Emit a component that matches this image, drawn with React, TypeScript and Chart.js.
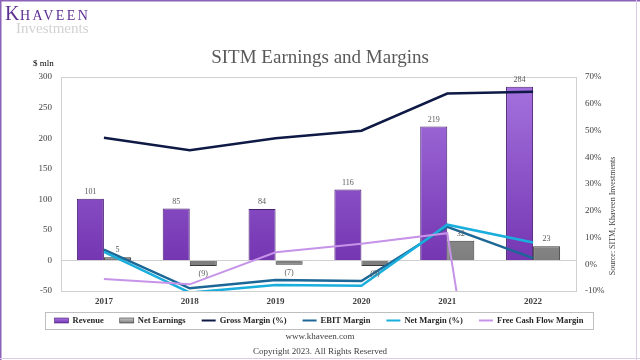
import React, { useEffect, useRef } from "react";
import { Chart, registerables } from "chart.js";

Chart.register(...registerables);

const years = ["2017", "2018", "2019", "2020", "2021", "2022"];
const revenue = [101, 85, 84, 116, 219, 284];
const netEarnings = [5, -9, -7, -9, 32, 23];
const grossMargin = [47.3, 42.6, 47.1, 49.9, 63.8, 64.5];
const ebitMargin = [5.5, -9.0, -5.9, -6.3, 14.0, 2.3];
const netMargin = [4.6, -10.6, -7.8, -8.0, 14.8, 8.1];
const fcfMargin = [-5.5, -7.5, 4.5, 7.7, 11.6, -190];

const leftTicks = { min: -50, max: 300, step: 50 };
const rightTicks = { min: -10, max: 70, step: 10 };

const SERIF = '"Liberation Serif", "Times New Roman", serif';
const TEXT = "#404040";

const PURPLE_TOP = "#A674E0";
const PURPLE_BOT = "#7536B2";
const GRAY_TOP = "#C8C8C8";
const GRAY_BOT = "#7E7E7E";

function vGrad(ctx: any, top: string, bot: string) {
  const chart = ctx.chart;
  const area = chart.chartArea;
  if (!area) return bot;
  const y0 = chart.scales.y.getPixelForValue(0);
  const g = chart.ctx.createLinearGradient(0, area.top, 0, y0);
  g.addColorStop(0, top);
  g.addColorStop(1, bot);
  return g;
}

const fmt = (v: number) => (v < 0 ? `(${Math.abs(v)})` : `${v}`);

const decoPlugin = {
  id: "deco",
  beforeDraw(chart: any) {
    const c = chart.ctx;
    c.save();
    c.fillStyle = "#ffffff";
    c.fillRect(0, 0, chart.width, chart.height);
    c.restore();
  },
  beforeDatasetsDraw(chart: any) {
    const c = chart.ctx;
    const a = chart.chartArea;
    c.save();
    c.strokeStyle = "#D0D0D0";
    c.lineWidth = 1;
    c.strokeRect(Math.round(a.left) + 0.5, Math.round(a.top) + 0.5, Math.round(a.right - a.left), Math.round(a.bottom - a.top));
    c.restore();
  },
  afterDatasetsDraw(chart: any) {
    const c = chart.ctx;
    c.save();
    c.font = `8px ${SERIF}`;
    c.fillStyle = "#595959";
    c.textAlign = "center";
    c.textBaseline = "middle";
    [0, 1].forEach((di) => {
      const meta = chart.getDatasetMeta(di);
      const data = chart.data.datasets[di].data as number[];
      meta.data.forEach((el: any, i: number) => {
        const v = data[i];
        const y = v >= 0 ? el.y - 7 : el.y + 8;
        c.fillText(fmt(v), el.x, y);
      });
    });
    c.restore();
  },
  afterDraw(chart: any) {
    const c = chart.ctx;
    const W = chart.width;
    const H = chart.height;
    c.save();

    // title
    c.font = `19px ${SERIF}`;
    c.fillStyle = "#595959";
    c.textAlign = "center";
    c.textBaseline = "middle";
    c.fillText("SITM Earnings and Margins", 320, 58);

    // $ mln
    c.font = `9px ${SERIF}`;
    c.fillStyle = "#000000";
    c.textAlign = "left";
    c.fillText("$ mln", 33, 64);

    // logo
    c.textBaseline = "alphabetic";
    c.fillStyle = "#5E2F93";
    c.font = `20px ${SERIF}`;
    c.fillText("K", 5, 20);
    c.font = `14px ${SERIF}`;
    (c as any).letterSpacing = "2.4px";
    c.fillText("HAVEEN", 20, 20);
    (c as any).letterSpacing = "0px";
    c.fillStyle = "#D2D2D2";
    c.font = `15px ${SERIF}`;
    c.fillText("Investments", 16, 33);

    // source (vertical)
    c.save();
    c.translate(613, 216);
    c.rotate(-Math.PI / 2);
    c.font = `8px ${SERIF}`;
    c.fillStyle = TEXT;
    c.textAlign = "center";
    c.textBaseline = "middle";
    c.fillText("Source: SITM, Khaveen Investments", 0, 0);
    c.restore();

    // legend
    const ds = chart.data.datasets;
    c.font = `bold 8.5px ${SERIF}`;
    const sw = 14, gapT = 4, gapI = 16;
    const widths = ds.map((d: any) => sw + gapT + c.measureText(d.label).width);
    const total = widths.reduce((s: number, w: number) => s + w, 0) + gapI * (ds.length - 1);
    let x = 319 - total / 2;
    const ly = 320.5;
    c.strokeStyle = "#BFBFBF";
    c.lineWidth = 1;
    c.strokeRect(45.5, 312.5, 548, 17);
    ds.forEach((d: any, i: number) => {
      if (d.type === "bar") {
        const g = c.createLinearGradient(0, ly - 2.5, 0, ly + 2.5);
        g.addColorStop(0, d.legendTop);
        g.addColorStop(1, d.legendBot);
        c.fillStyle = g;
        c.fillRect(x, ly - 2.5, sw, 5);
        c.strokeStyle = d.borderColor;
        c.lineWidth = 0.6;
        c.strokeRect(x, ly - 2.5, sw, 5);
      } else {
        c.strokeStyle = d.borderColor;
        c.lineWidth = 2;
        c.beginPath();
        c.moveTo(x, ly);
        c.lineTo(x + sw, ly);
        c.stroke();
      }
      c.fillStyle = "#262626";
      c.textAlign = "left";
      c.textBaseline = "middle";
      c.fillText(d.label, x + sw + gapT, ly + 0.5);
      x += widths[i] + gapI;
    });

    // footer
    c.font = `9px ${SERIF}`;
    c.fillStyle = TEXT;
    c.textAlign = "center";
    c.textBaseline = "middle";
    c.fillText("www.khaveen.com", 320, 337);
    c.fillText("Copyright 2023. All Rights Reserved", 320, 352);

    // frame
    c.strokeStyle = "#8A63B8";
    c.lineWidth = 1.5;
    c.beginPath();
    c.moveTo(0.75, H);
    c.lineTo(0.75, 0.75);
    c.lineTo(W, 0.75);
    c.stroke();
    c.strokeStyle = "#D8CCE6";
    c.lineWidth = 1;
    c.beginPath();
    c.moveTo(0, H - 1.5);
    c.lineTo(W, H - 1.5);
    c.moveTo(636.5, 0);
    c.lineTo(636.5, H);
    c.stroke();
    c.restore();
  },
};

export default function App() {
  const ref = useRef<HTMLCanvasElement | null>(null);

  useEffect(() => {
    document.body.style.margin = "0";
    const canvas = ref.current;
    if (!canvas) return;
    const chart = new Chart(canvas, {
      type: "bar",
      data: {
        labels: years,
        datasets: [
          {
            type: "bar",
            label: "Revenue",
            data: revenue,
            yAxisID: "y",
            backgroundColor: (ctx: any) => vGrad(ctx, PURPLE_TOP, PURPLE_BOT),
            borderColor: "#4A1F72",
            borderWidth: 1,
            order: 10,
            legendTop: PURPLE_TOP,
            legendBot: PURPLE_BOT,
          } as any,
          {
            type: "bar",
            label: "Net Earnings",
            data: netEarnings,
            yAxisID: "y",
            backgroundColor: (ctx: any) => vGrad(ctx, GRAY_TOP, GRAY_BOT),
            borderColor: "#3A3A3A",
            borderWidth: 1,
            order: 11,
            legendTop: GRAY_TOP,
            legendBot: GRAY_BOT,
          } as any,
          {
            type: "line",
            label: "Gross Margin (%)",
            data: grossMargin,
            yAxisID: "y1",
            borderColor: "#0E1A45",
            backgroundColor: "#0E1A45",
            borderWidth: 2.5,
            pointRadius: 0,
            tension: 0,
            order: 4,
          },
          {
            type: "line",
            label: "EBIT Margin",
            data: ebitMargin,
            yAxisID: "y1",
            borderColor: "#1C6796",
            backgroundColor: "#1C6796",
            borderWidth: 2.5,
            pointRadius: 0,
            tension: 0,
            order: 3,
          },
          {
            type: "line",
            label: "Net Margin (%)",
            data: netMargin,
            yAxisID: "y1",
            borderColor: "#1AAEDD",
            backgroundColor: "#1AAEDD",
            borderWidth: 2.5,
            pointRadius: 0,
            tension: 0,
            order: 2,
          },
          {
            type: "line",
            label: "Free Cash Flow Margin",
            data: fcfMargin,
            yAxisID: "y1",
            borderColor: "#C693E8",
            backgroundColor: "#C693E8",
            borderWidth: 2,
            pointRadius: 0,
            tension: 0,
            order: 1,
          },
        ],
      },
      options: {
        responsive: false,
        animation: false,
        devicePixelRatio: 1,
        layout: { padding: { top: 77, bottom: 49, left: 0, right: 0 } },
        datasets: {
          bar: { categoryPercentage: 0.63, barPercentage: 1 },
        },
        plugins: {
          legend: { display: false },
          tooltip: { enabled: false },
          title: { display: false },
        },
        scales: {
          x: {
            offset: true,
            grid: { display: false, drawTicks: false },
            border: { display: false },
            ticks: {
              font: { family: SERIF, size: 9, weight: "bold" },
              color: TEXT,
              padding: 5,
            },
            afterFit: (s: any) => {
              s.height = 20;
            },
          },
          y: {
            position: "left",
            min: leftTicks.min,
            max: leftTicks.max,
            ticks: {
              stepSize: leftTicks.step,
              font: { family: SERIF, size: 9 },
              color: TEXT,
              padding: 9,
            },
            grid: {
              drawTicks: false,
              color: (ctx: any) => (ctx.tick && ctx.tick.value === 0 ? "#D0D0D0" : "rgba(0,0,0,0)"),
            },
            border: { display: false },
            afterFit: (s: any) => {
              s.width = 61;
            },
          },
          y1: {
            position: "right",
            min: rightTicks.min,
            max: rightTicks.max,
            ticks: {
              stepSize: rightTicks.step,
              font: { family: SERIF, size: 9 },
              color: TEXT,
              padding: 9,
              callback: (v: any) => `${v}%`,
            },
            grid: { display: false, drawTicks: false },
            border: { display: false },
            afterFit: (s: any) => {
              s.width = 64;
            },
          },
        },
      } as any,
      plugins: [decoPlugin],
    });
    return () => chart.destroy();
  }, []);

  return <canvas ref={ref} width={640} height={360} style={{ display: "block", width: 640, height: 360 }} />;
}
